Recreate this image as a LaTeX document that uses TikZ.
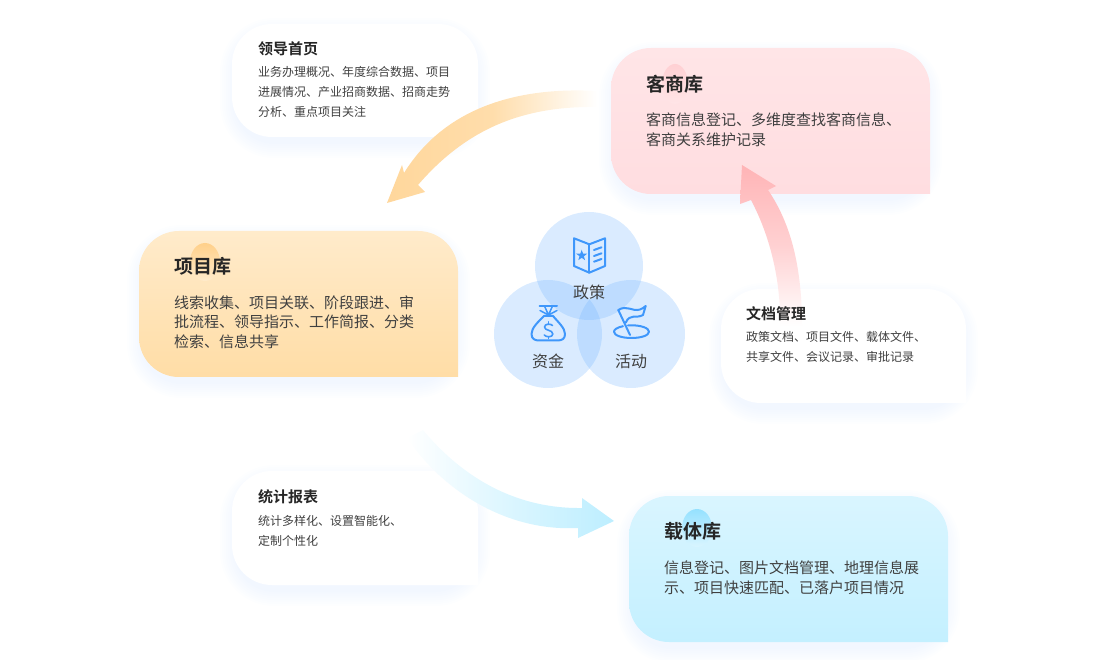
\documentclass[tikz,border=0pt]{standalone}
\usepackage{fontspec}
\setmainfont{Noto Sans CJK SC}[BoldFont={Noto Sans CJK SC Bold}]
\usetikzlibrary{calc}
\definecolor{shadowc}{HTML}{BFD8FF}
\definecolor{iconc}{HTML}{3F97FB}
\definecolor{venn}{HTML}{6AB0FF}
\definecolor{titlec}{HTML}{262626}
\definecolor{bodyc}{HTML}{404040}
\definecolor{oT}{HTML}{FFEBCB}\definecolor{oB}{HTML}{FFDDA6}\definecolor{oBlob}{HTML}{FFD08A}
\definecolor{pT}{HTML}{FFE5E7}\definecolor{pB}{HTML}{FFDDE0}\definecolor{pBlob}{HTML}{FFD0D3}
\definecolor{bT}{HTML}{D9F5FF}\definecolor{bB}{HTML}{C4F0FF}\definecolor{bBlob}{HTML}{95E1FF}
\definecolor{oArrow}{HTML}{FFD79C}\definecolor{pArrow}{HTML}{FFB4B6}\definecolor{bArrow}{HTML}{BDEEFF}
\newcommand{\cardoutline}[4]{(#3,#4) [rounded corners=40pt] -- (#1,#4) -- (#1,#2) -- (#3,#2) [sharp corners] -- cycle}
\newcommand{\softshadow}[4]{%
  \foreach \d in {14,12,10,8,6,4,2,0}{%
    \fill[shadowc,opacity=0.028] (#3+\d-2,#4+7+\d) [rounded corners={(40+\d)*1pt}] -- (#1-\d+2,#4+7+\d) -- (#1-\d+2,#2+8-\d) -- (#3+\d-2,#2+8-\d) -- cycle;
  }}
\tikzset{
  bigtitle/.style={anchor=west,inner sep=0pt,text=titlec,font=\fontsize{19}{23}\selectfont\bfseries},
  bigbody/.style={anchor=west,inner sep=0pt,text=bodyc,align=left,font=\fontsize{15}{19.6}\selectfont},
  smalltitle/.style={anchor=west,inner sep=0pt,text=titlec,font=\fontsize{15}{18}\selectfont\bfseries},
  smallbody/.style={anchor=west,inner sep=0pt,text=bodyc,align=left,font=\fontsize{12}{20}\selectfont},
  vennc/.style={circle,minimum size=108pt,inner sep=0pt,fill=venn,fill opacity=0.25},
  vennlabel/.style={inner sep=0pt,text=bodyc,font=\fontsize{16}{18}\selectfont},
  iconline/.style={draw=iconc,line width=2pt,line join=round,line cap=round},
}
\begin{document}
\begin{tikzpicture}[x=1pt,y=-1pt]
\useasboundingbox (0,0) rectangle (1120,660);
% shadows
\softshadow{232}{24}{478}{137}
\softshadow{721}{289}{966}{403}
\softshadow{232}{471}{478}{585}
\softshadow{139}{231}{458}{377}
\softshadow{611}{48}{930}{194}
\softshadow{629}{496}{948}{642}
% white cards
\fill[white] \cardoutline{232}{24}{478}{137};
\fill[white] \cardoutline{721}{289}{966}{403};
\fill[white] \cardoutline{232}{471}{478}{585};
% coloured cards
\shade[top color=oT,bottom color=oB] \cardoutline{139}{231}{458}{377};
\shade[top color=pT,bottom color=pB] \cardoutline{611}{48}{930}{194};
\shade[top color=bT,bottom color=bB] \cardoutline{629}{496}{948}{642};
% blobs
\shade[top color=oBlob,bottom color=oT] (205,262) ellipse [x radius=15,y radius=19];
\shade[top color=pBlob,bottom color=pT] (675,84) ellipse [x radius=13,y radius=20];
\shade[top color=bBlob,bottom color=bT] (697,528) ellipse [x radius=15,y radius=19];
% connector coordinates
\coordinate (ytail1) at (597,91); \coordinate (ytail2) at (597,107);
\coordinate (yj1) at (404,173); \coordinate (yj2) at (418,185);
\coordinate (yw1) at (402,165); \coordinate (yw2) at (425,192);
\coordinate (ytip) at (387,203);
\coordinate (ptail1) at (780,326); \coordinate (ptail2) at (802,326);
\coordinate (pj1) at (751,200); \coordinate (pj2) at (768,190);
\coordinate (pw1) at (740,204); \coordinate (pw2) at (776,186);
\coordinate (ptip) at (742,165);
\coordinate (btail1) at (423,430); \coordinate (btail2) at (407,438);
\coordinate (bj1) at (582,508); \coordinate (bj2) at (578,528);
\coordinate (bw1) at (582,498); \coordinate (bw2) at (578,538);
\coordinate (btip) at (614,521);
% ribbon arrows
\shade[left color=oArrow,right color=white,middle color=oArrow!85!white]
  (ytail1) .. controls (505,86) and (440,115) .. (yj1) -- (yw1) -- (ytip) -- (yw2) -- (yj2)
  .. controls (468,127) and (525,106) .. (ytail2) -- cycle;
\shade[top color=pArrow,bottom color=white,middle color=pArrow!62!white]
  (ptail1) .. controls (781,285) and (772,240) .. (pj1) -- (pw1) -- (ptip) -- (pw2) -- (pj2)
  .. controls (792,225) and (802,270) .. (ptail2) -- cycle;
\shade[left color=white,right color=bArrow,middle color=bArrow!55!white]
  (btail1) .. controls (458,472) and (510,509) .. (bj1) -- (bw1) -- (btip) -- (bw2) -- (bj2)
  .. controls (500,532) and (438,484) .. (btail2) -- cycle;
% venn circles
\node[vennc] (vtop) at (589,266) {};
\node[vennc] (vleft) at (548,334) {};
\node[vennc] (vright) at (631,334) {};
% book icon
\draw[iconline] (574,238.3) -- (589.3,244.3) -- (605,238.3) -- (605,266) -- (589.3,272.7) -- (574,266) -- cycle;
\draw[iconline] (589.3,244.3) -- (589.3,272.7);
\draw[iconline] (594,250) -- (601.5,247.3) (594,256) -- (601.5,253.3) (594,261.7) -- (601.5,259);
\fill[iconc,shift={(581.7,255.5)}] (-90:5.8) -- (-54:2.3) -- (-18:5.8) -- (18:2.3) -- (54:5.8) -- (90:2.3) -- (126:5.8) -- (162:2.3) -- (198:5.8) -- (234:2.3) -- cycle;
% money bag icon
\draw[iconline] (539.5,306) -- (557,306);
\draw[iconline] (544,316) .. controls (538,322) and (531.5,328) .. (531.5,334) .. controls (531.5,339) and (535,340.5) .. (539,340.5) -- (557,340.5) .. controls (562,340.5) and (565,339) .. (565,334) .. controls (565,328) and (558,322) .. (553,316) -- cycle;
\draw[iconline,line width=1.5pt] (548.5,315) -- (540,310.5) (548.5,315) -- (544.5,306) (548.5,315) -- (552.5,306) (548.5,315) -- (557,310.5);
\draw[iconline,line width=1.6pt] (552.5,325.5) .. controls (551,323.5) and (544.5,323.5) .. (544.5,327) .. controls (544.5,331) and (552.8,329.5) .. (552.8,334) .. controls (552.8,337.5) and (546,337.5) .. (544.3,335);
\draw[iconline,line width=1.6pt] (548.5,321.8) -- (548.5,323.5) (548.5,336.8) -- (548.5,338.5);
% flag icon
\draw[iconline] (618.3,310) -- (630,335);
\draw[iconline] (618.3,310) .. controls (627,304.5) and (632,312) .. (640,309.5) .. controls (642.5,308.5) and (644,307.5) .. (645.7,306) -- (643,315) .. controls (636,319) and (630,313) .. (625.7,322.7);
\draw[iconline] (623,326.2) .. controls (617,327.5) and (614,329.5) .. (614,331.7) .. controls (614,335.5) and (622,338) .. (631.5,338) .. controls (641,338) and (649,335.5) .. (649,331.7) .. controls (649,328) and (641,325.3) .. (631.5,325.3) -- (628,325.4);
% venn labels
\node[vennlabel] (lzc) at (589,292) {政策};
\node[vennlabel] (lzj) at (548,361) {资金};
\node[vennlabel] (lhd) at (631,361) {活动};
% card texts
\node[smalltitle] (t1) at (258,49) {领导首页};
\node[smallbody] (b1) at (258,92) {业务办理概况、年度综合数据、项目\\进展情况、产业招商数据、招商走势\\分析、重点项目关注};
\node[smalltitle] (t2) at (746,314) {文档管理};
\node[smallbody] (b2) at (746,347) {政策文档、项目文件、载体文件、\\共享文件、会议记录、审批记录};
\node[smalltitle] (t3) at (258,497) {统计报表};
\node[smallbody] (b3) at (258,530.5) {统计多样化、设置智能化、\\定制个性化};
\node[bigtitle] (t4) at (174,266) {项目库};
\node[bigbody] (b4) at (174,322) {线索收集、项目关联、阶段跟进、审\\批流程、领导指示、工作简报、分类\\检索、信息共享};
\node[bigtitle] (t5) at (646,84) {客商库};
\node[bigbody] (b5) at (646,130) {客商信息登记、多维度查找客商信息、\\客商关系维护记录};
\node[bigtitle] (t6) at (664,531.5) {载体库};
\node[bigbody] (b6) at (664,578) {信息登记、图片文档管理、地理信息展\\示、项目快速匹配、已落户项目情况};
\end{tikzpicture}
\end{document}
